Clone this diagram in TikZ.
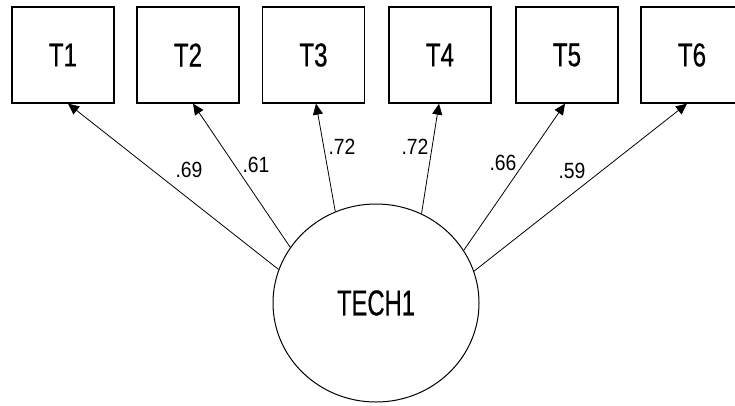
\documentclass[tikz,border=0pt]{standalone}
\usepackage{fontspec}
\setmainfont{Liberation Sans}
\newfontfamily\heavysans[FakeBold=0.6]{Liberation Sans}
\usepackage{graphicx}
\usetikzlibrary{arrows.meta,shapes.geometric}
\newcommand\narrowtxt[2]{\scalebox{#1}[1]{#2}}
\tikzset{
  obs/.style={draw=black, line width=1.3pt, minimum width=102pt, minimum height=96pt, inner sep=0pt,
    font=\heavysans\fontsize{33}{33}\selectfont},
  lat/.style={draw=black, line width=1pt, ellipse, minimum width=206pt, minimum height=198pt, inner sep=0pt,
    font=\heavysans\fontsize{36}{36}\selectfont},
  load/.style={draw=black, line width=0.8pt, -{Triangle[length=11pt,width=10pt]}},
  lbl/.style={inner sep=0pt, font=\fontsize{22}{22}\selectfont}
}
\begin{document}
\begin{tikzpicture}[x=1pt,y=-1pt]
\useasboundingbox (0,0) rectangle (735,405);
\node[obs] (T1) at (63,55) {\narrowtxt{0.73}{T1}};
\node[obs] (T2) at (188,55) {\narrowtxt{0.73}{T2}};
\node[obs] (T3) at (313.5,55) {\narrowtxt{0.73}{T3}};
\node[obs] (T4) at (440,55) {\narrowtxt{0.73}{T4}};
\node[obs] (T5) at (567,55) {\narrowtxt{0.73}{T5}};
\node[obs] (T6) at (692,55) {\narrowtxt{0.73}{T6}};
\node[lat] (E) at (376,303) {\narrowtxt{0.66}{TECH1}};
\draw[load] (E.161) -- ([xshift=5pt]T1.south);
\draw[load] (E.147.6) -- ([xshift=5pt]T2.south);
\draw[load] (E.114) -- ([xshift=2.5pt]T3.south);
\draw[load] (E.63.4) -- ([xshift=-1pt]T4.south);
\draw[load] (E.31.2) -- ([xshift=-2pt]T5.south);
\draw[load] (E.18.4) -- ([xshift=-5pt]T6.south);
\node[lbl] (l1) at (189,170) {\narrowtxt{0.88}{.69}};
\node[lbl] (l2) at (256,165) {\narrowtxt{0.88}{.61}};
\node[lbl] (l3) at (342,147) {\narrowtxt{0.88}{.72}};
\node[lbl] (l4) at (415,147) {\narrowtxt{0.88}{.72}};
\node[lbl] (l5) at (503,163) {\narrowtxt{0.88}{.66}};
\node[lbl] (l6) at (572,171) {\narrowtxt{0.88}{.59}};
\end{tikzpicture}
\end{document}
